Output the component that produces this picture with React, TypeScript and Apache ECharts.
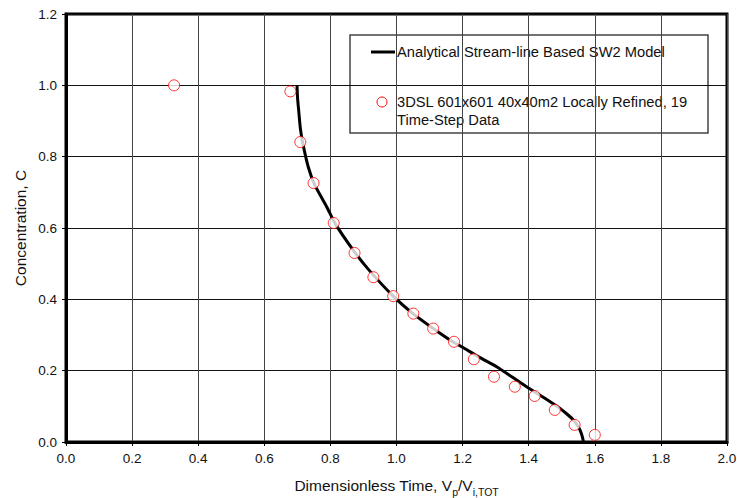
import React, { useEffect, useRef } from "react";
import * as echarts from "echarts";

const xTicks = [0, 0.2, 0.4, 0.6, 0.8, 1.0, 1.2, 1.4, 1.6, 1.8, 2.0];
const yTicks = [0, 0.2, 0.4, 0.6, 0.8, 1.0, 1.2];

const curveX = [0.699, 0.701, 0.704, 0.709, 0.716, 0.733, 0.753, 0.789, 0.814, 0.869, 0.915, 0.99, 1.05, 1.11, 1.17, 1.197, 1.25, 1.303, 1.35, 1.397, 1.45, 1.495, 1.52, 1.535, 1.548, 1.556, 1.562, 1.566];
const curveY = [1.0, 0.96, 0.93, 0.88, 0.84, 0.771, 0.72, 0.659, 0.613, 0.538, 0.484, 0.409, 0.36, 0.319, 0.281, 0.267, 0.238, 0.211, 0.182, 0.153, 0.122, 0.094, 0.075, 0.062, 0.046, 0.032, 0.016, 0.0];

const dataX = [0.327, 0.679, 0.709, 0.749, 0.81, 0.873, 0.93, 0.99, 1.051, 1.111, 1.174, 1.234, 1.295, 1.358, 1.418, 1.479, 1.539, 1.6];
const dataY = [1.0, 0.983, 0.841, 0.726, 0.614, 0.53, 0.462, 0.409, 0.36, 0.318, 0.281, 0.232, 0.183, 0.155, 0.129, 0.09, 0.048, 0.02];

const lineName = "Analytical Stream-line Based SW2 Model";
const dataName1 = "3DSL 601x601 40x40m2 Locally Refined, 19";
const dataName2 = "Time-Step Data";

const FONT = "Liberation Sans, Arial, sans-serif";

export default function App() {
  const ref = useRef<HTMLDivElement>(null);
  useEffect(() => {
    if (!ref.current) return;
    const chart = echarts.init(ref.current, undefined, { renderer: "svg" });
    chart.setOption({
      animation: false,
      backgroundColor: "#fff",
      textStyle: { fontFamily: FONT },
      grid: {
        left: 66,
        top: 14,
        right: 10,
        bottom: 56,
        outerBoundsMode: "none",
        containLabel: false,
        show: true,
        borderColor: "#000",
        borderWidth: 3,
        backgroundColor: "#fff",
      },
      xAxis: {
        type: "value",
        min: 0,
        max: 2,
        interval: 0.2,
        axisLine: { show: true, lineStyle: { color: "#000", width: 3 } },
        axisTick: { show: true, length: 4, lineStyle: { color: "#000" } },
        axisLabel: {
          color: "#111",
          fontSize: 13.5,
          fontFamily: FONT,
          margin: 9,
          formatter: (v: number) => v.toFixed(1),
        },
        splitLine: { show: true, lineStyle: { color: "#444", width: 1 } },
        name: "{a|Dimensionless Time, V}{s|p}{a|/V}{s|i,TOT}",
        nameLocation: "middle",
        nameGap: 33,
        nameMoveOverlap: false,
        nameTextStyle: {
          rich: {
            a: { fontSize: 15.5, color: "#111", fontFamily: FONT, lineHeight: 20, verticalAlign: "middle" },
            s: { fontSize: 10.5, color: "#111", fontFamily: FONT, lineHeight: 20, height: 6, verticalAlign: "bottom" },
          },
        },
      },
      yAxis: {
        type: "value",
        min: 0,
        max: 1.2,
        interval: 0.2,
        axisLine: { show: true, lineStyle: { color: "#000", width: 3 } },
        axisTick: { show: true, length: 4, lineStyle: { color: "#000" } },
        axisLabel: {
          color: "#111",
          fontSize: 13.5,
          fontFamily: FONT,
          margin: 9,
          formatter: (v: number) => v.toFixed(1),
        },
        splitLine: { show: true, lineStyle: { color: "#111", width: 1 } },
        name: "Concentration, C",
        nameLocation: "middle",
        nameGap: 38,
        nameMoveOverlap: false,
        nameTextStyle: { fontSize: 15.5, color: "#111", fontFamily: FONT },
      },
      series: [
        {
          type: "line",
          name: lineName,
          data: curveX.map((x, i) => [x, curveY[i]]),
          showSymbol: false,
          smooth: 0.2,
          lineStyle: { color: "#000", width: 3 },
          z: 3,
        },
        {
          type: "scatter",
          name: dataName1,
          data: dataX.map((x, i) => [x, dataY[i]]),
          symbol: "circle",
          symbolSize: 11,
          itemStyle: { color: "#fff", borderColor: "#ff0000", borderWidth: 1 },
          z: 4,
        },
      ],
      graphic: [
        {
          type: "group",
          z: 100,
          children: [
            {
              type: "rect",
              shape: { x: 350, y: 35, width: 358, height: 98 },
              style: { fill: "#fff", stroke: "#444", lineWidth: 1.5 },
            },
            {
              type: "line",
              shape: { x1: 371, y1: 52, x2: 395, y2: 52 },
              style: { stroke: "#000", lineWidth: 3 },
            },
            {
              type: "text",
              x: 397,
              y: 52,
              style: { text: lineName, fontSize: 14.7, fontFamily: FONT, fill: "#111", verticalAlign: "middle" },
            },
            {
              type: "circle",
              shape: { cx: 382, cy: 102, r: 5 },
              style: { fill: "#fff", stroke: "#ff0000", lineWidth: 1 },
            },
            {
              type: "text",
              x: 397,
              y: 102,
              style: { text: dataName1, fontSize: 14.7, fontFamily: FONT, fill: "#111", verticalAlign: "middle" },
            },
            {
              type: "text",
              x: 397,
              y: 120,
              style: { text: dataName2, fontSize: 14.7, fontFamily: FONT, fill: "#111", verticalAlign: "middle" },
            },
          ],
        },
      ],
    });
    return () => chart.dispose();
  }, []);
  return <div ref={ref} style={{ width: 737, height: 498, position: "absolute", left: 0, top: 0 }} />;
}
